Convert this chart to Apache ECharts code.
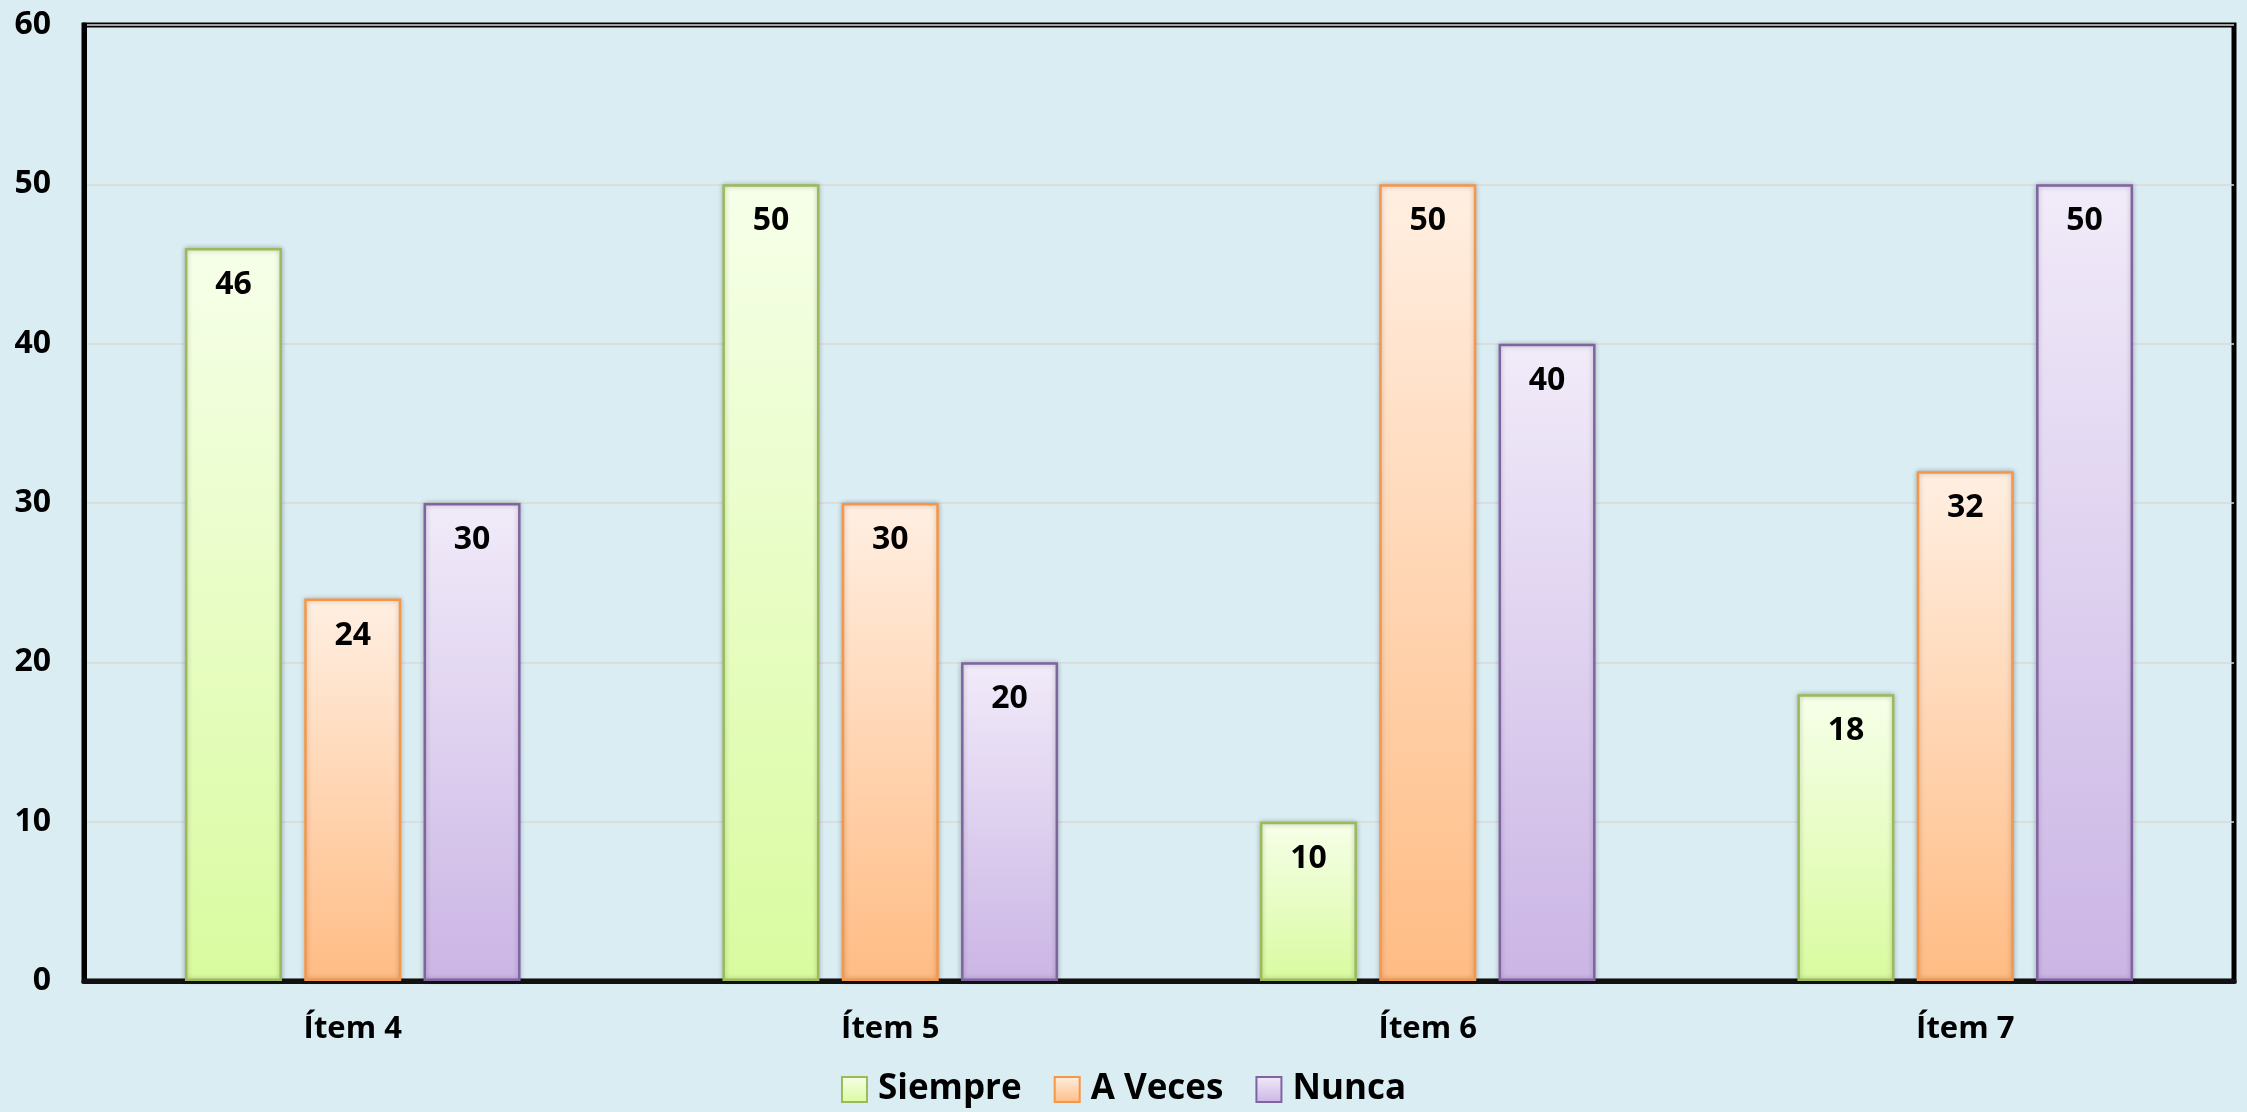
<!DOCTYPE html>
<html>
<head>
<meta charset="utf-8">
<script src="https://cdn.jsdelivr.net/npm/echarts@6/dist/echarts.min.js"></script>
<style>
html,body{margin:0;padding:0;background:#daedf3;}
#c{width:2247px;height:1112px;}
</style>
</head>
<body>
<div id="c"></div>
<script>
const categories = ['Ítem 4', 'Ítem 5', 'Ítem 6', 'Ítem 7'];
const seriesNames = ['Siempre', 'A Veces', 'Nunca'];
const siempre = [46, 50, 10, 18];
const aVeces = [24, 30, 50, 32];
const nunca = [30, 20, 40, 50];
const yTicks = [0, 10, 20, 30, 40, 50, 60];

const FONT = '"Open Sans", "DejaVu Sans", sans-serif';
const styles = [
  {top: '#f6ffe9', bottom: '#d9fb9f', border: '#9bbb59'},
  {top: '#ffefe2', bottom: '#ffbc84', border: '#f79646'},
  {top: '#f1ebf9', bottom: '#cbb5e5', border: '#8064a2'}
];
const values = [siempre, aVeces, nunca];

function grad(s) {
  return new echarts.graphic.LinearGradient(0, 0, 0, 1, [
    {offset: 0, color: s.top}, {offset: 1, color: s.bottom}
  ]);
}

const chart = echarts.init(document.getElementById('c'), null, {renderer: 'canvas'});
chart.setOption({
  backgroundColor: '#daedf3',
  animation: false,
  grid: {
    left: 84, right: 13, top: 25, bottom: 131,
    show: true, borderColor: '#000', borderWidth: 5, backgroundColor: 'transparent'
  },
  legend: {
    data: seriesNames.map(n => ({name: n, icon: 'rect'})),
    bottom: 0,
    left: 'center',
    itemWidth: 25,
    itemHeight: 25,
    itemGap: 32,
    textStyle: {fontFamily: FONT, fontWeight: 'bold', fontSize: 35, color: '#000', padding: [0, 0, 0, 6]}
  },
  xAxis: {
    type: 'category',
    data: categories,
    axisTick: {show: false},
    axisLine: {show: true, lineStyle: {color: '#111', width: 5}},
    axisLabel: {fontFamily: FONT, fontWeight: 'bold', fontSize: 31, color: '#000', margin: 33}
  },
  yAxis: {
    type: 'value',
    min: yTicks[0],
    max: yTicks[yTicks.length - 1],
    interval: 10,
    axisLine: {show: true, lineStyle: {color: '#000', width: 5}},
    axisTick: {show: false},
    splitLine: {show: true, lineStyle: {color: '#d8d8d8', width: 1.5}},
    axisLabel: {fontFamily: FONT, fontWeight: 'bold', fontSize: 32, color: '#000', margin: 33}
  },
  series: seriesNames.map((name, i) => ({
    name: name,
    type: 'bar',
    data: values[i],
    barWidth: 97,
    barGap: '23%',
    itemStyle: {
      color: grad(styles[i]),
      borderColor: styles[i].border,
      borderWidth: 2.5,
      shadowBlur: 5,
      shadowColor: 'rgba(0,0,0,0.25)',
      shadowOffsetX: 0
    },
    label: {
      show: true,
      position: 'insideTop',
      distance: 21,
      fontFamily: FONT,
      fontWeight: 'bold',
      fontSize: 32,
      color: '#000'
    }
  }))
});
</script>
</body>
</html>
